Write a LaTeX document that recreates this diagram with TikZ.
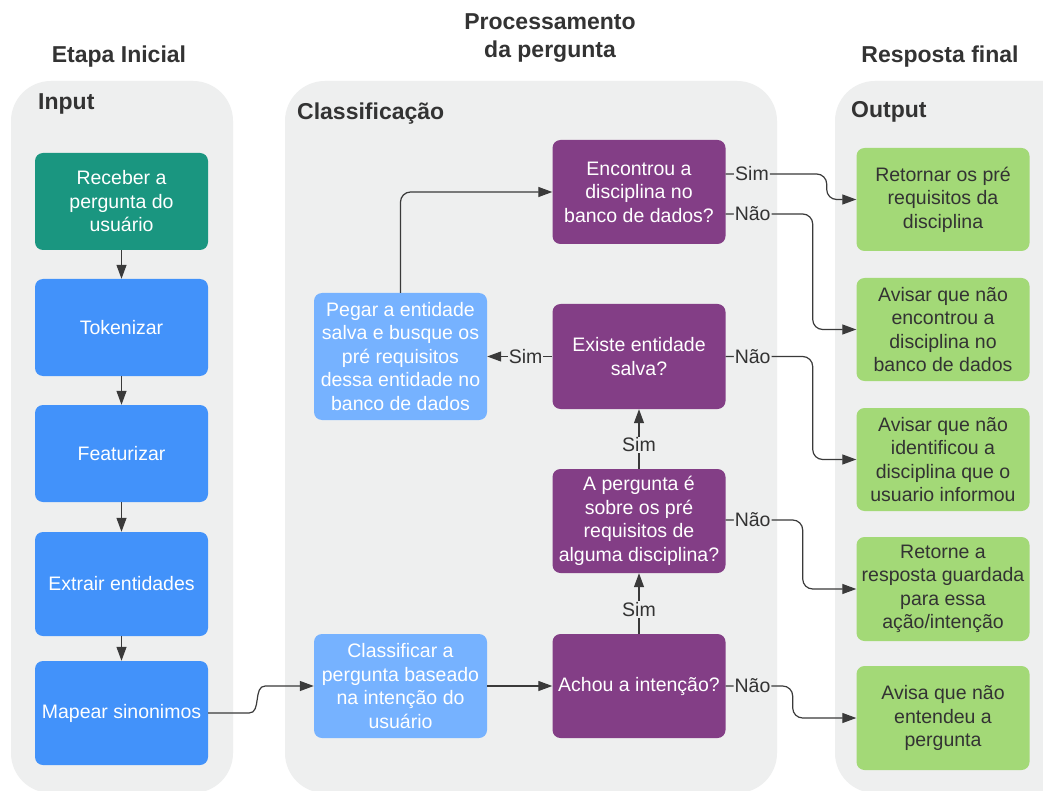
\documentclass[tikz,border=0pt]{standalone}
\usepackage{fontspec}
\setmainfont{Liberation Sans}
\usetikzlibrary{arrows.meta,calc}
\definecolor{lane}{RGB}{238,239,239}
\definecolor{teal}{RGB}{26,150,128}
\definecolor{bluebox}{RGB}{66,146,250}
\definecolor{lightbluebox}{RGB}{118,178,255}
\definecolor{purplebox}{RGB}{131,62,134}
\definecolor{greenbox}{RGB}{163,217,119}
\definecolor{darktext}{RGB}{51,51,51}
\definecolor{linecol}{RGB}{58,58,58}
\begin{document}
\begin{tikzpicture}[x=1pt,y=-1pt,
  lanebox/.style={fill=lane,draw=none,rounded corners=40pt},
  hdr/.style={font=\fontsize{23}{27}\selectfont\bfseries,text=darktext,align=center},
  box/.style={rectangle,rounded corners=8pt,minimum width=173pt,align=center,inner sep=2pt,font=\fontsize{19.5}{23.5}\selectfont},
  inbox/.style={box,fill=bluebox,text=white},
  recbox/.style={box,fill=teal,text=white},
  clsbox/.style={box,fill=lightbluebox,text=white},
  decbox/.style={box,fill=purplebox,text=white},
  outbox/.style={box,fill=greenbox,text=darktext},
  conn/.style={draw=linecol,line width=1.2pt,-{Triangle[length=14pt,width=10pt]}},
  lbl/.style={fill=lane,inner sep=1pt,text=darktext,font=\fontsize{19.5}{23.5}\selectfont}]
\useasboundingbox (0,0) rectangle (1043,791);
\clip (0,0) rectangle (1043,791);
\fill[white] (0,0) rectangle (1043,791);
% lanes
\fill[lanebox] (11,81) rectangle (233,793);
\fill[lanebox] (285,81) rectangle (777,793);
\fill[lanebox] (835,81) rectangle (1090,793);
% headers
\node[hdr,anchor=base] (h1) at (119,63) {Etapa Inicial};
\node[hdr,anchor=base] (h2) at (550,30) {Processamento};
\node[hdr,anchor=base] (h2b) at (550,58) {da pergunta};
\node[hdr,anchor=base] (h3) at (940,63) {Resposta final};
\node[hdr,anchor=base west,inner sep=0pt] (l1) at (38,110) {Input};
\node[hdr,anchor=base west,inner sep=0pt] (l2) at (297,120) {Classificação};
\node[hdr,anchor=base west,inner sep=0pt] (l3) at (851,118) {Output};
% input column
\node[recbox,minimum height=97pt] (rec) at (121.5,201.5) {Receber a\\pergunta do\\usuário};
\node[inbox,minimum height=97pt] (tok) at (121.5,327.5) {Tokenizar};
\node[inbox,minimum height=97pt] (fea) at (121.5,453.5) {Featurizar};
\node[inbox,minimum height=104pt] (ext) at (121.5,584) {Extrair entidades};
\node[inbox,minimum height=104pt] (map) at (121.5,713) {Mapear sinonimos};
% classification column
\node[clsbox,minimum height=104pt] (cls) at (400.5,686) {Classificar a\\pergunta baseado\\na intenção do\\usuário};
\node[clsbox,minimum height=127pt] (peg) at (400.5,356.5) {Pegar a entidade\\salva e busque os\\pré requisitos\\dessa entidade no\\banco de dados};
\node[decbox,minimum height=104pt] (enc) at (639,192) {Encontrou a\\disciplina no\\banco de dados?};
\node[decbox,minimum height=105pt] (exi) at (639,356.5) {Existe entidade\\salva?};
\node[decbox,minimum height=104pt] (per) at (639,521) {A pergunta é\\sobre os pré\\requisitos de\\alguma disciplina?};
\node[decbox,minimum height=104pt] (ach) at (639,686) {Achou a intenção?};
% output column
\node[outbox,minimum height=103pt] (ret) at (943,199.5) {Retornar os pré\\requisitos da\\disciplina};
\node[outbox,minimum height=103pt] (av1) at (943,329.5) {Avisar que não\\encontrou a\\disciplina no\\banco de dados};
\node[outbox,minimum height=103pt] (av2) at (943,459.5) {Avisar que não\\identificou a\\disciplina que o\\usuario informou};
\node[outbox,minimum height=104pt] (rtn) at (943,589) {Retorne a\\resposta guardada\\para essa\\ação/intenção};
\node[outbox,minimum height=104pt] (avi) at (943,718) {Avisa que não\\entendeu a\\pergunta};
% input arrows
\draw[conn] (rec) -- (tok);
\draw[conn] (tok) -- (fea);
\draw[conn] (fea) -- (ext);
\draw[conn] (ext) -- (map);
% map -> cls
\draw[conn] (map.east) -- ++(41,0) to[out=0,in=180] ++(16,-27) -- (cls.west);
\draw[conn] (cls.east) -- (ach.west);
% vertical Sim
\draw[conn] (ach.north) -- node[lbl,pos=0.4]{Sim} (per.south);
\draw[conn] (per.north) -- node[lbl,pos=0.4]{Sim} (exi.south);
\draw[conn] (exi.west) -- node[lbl,pos=0.41]{Sim} (peg.east);
\draw[conn,rounded corners=10pt] (peg.north) |- (enc.west);
% right side
\draw[conn,rounded corners=10pt] ([yshift=18pt]enc.east) -- node[lbl,pos=0.26]{Sim} ++(101,0) |- (ret.west);
\draw[conn,rounded corners=10pt] ([yshift=-22pt]enc.east) -- node[lbl,pos=0.31]{Não} ++(87,0) |- (av1.west);
\draw[conn,rounded corners=10pt] (exi.east) -- node[lbl,pos=0.31]{Não} ++(87,0) |- (av2.west);
\draw[conn,rounded corners=10pt] ([yshift=1pt]per.east) -- node[lbl,pos=0.35]{Não} ++(77,0) |- (rtn.west);
\draw[conn,rounded corners=10pt] (ach.east) -- node[lbl,pos=0.4]{Não} ++(67,0) |- (avi.west);
\end{tikzpicture}
\end{document}
